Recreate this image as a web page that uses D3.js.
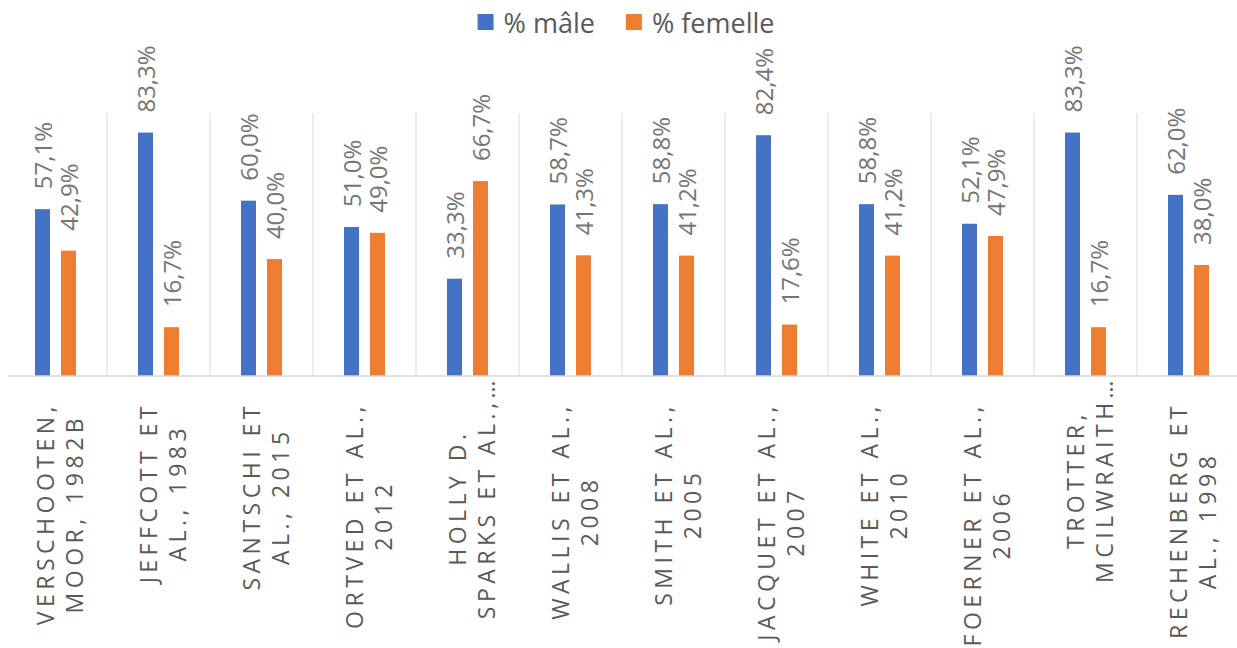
<!DOCTYPE html>
<html>
<head>
<meta charset="utf-8">
<script src="https://cdn.jsdelivr.net/npm/d3@7"></script>
<style>
  body { margin: 0; background: #fff; }
  svg { display: block; font-family: "Open Sans", sans-serif; }
</style>
</head>
<body>
<div id="chart"></div>
<script>
// categories, each split into its two wrapped lines
const categories = [
  ["VERSCHOOTEN,", "MOOR, 1982B"],
  ["JEFFCOTT ET", "AL., 1983"],
  ["SANTSCHI ET", "AL., 2015"],
  ["ORTVED ET AL.,", "2012"],
  ["HOLLY D.", "SPARKS ET AL.,…"],
  ["WALLIS ET AL.,", "2008"],
  ["SMITH ET AL.,", "2005"],
  ["JACQUET ET AL.,", "2007"],
  ["WHITE ET AL.,", "2010"],
  ["FOERNER ET AL.,", "2006"],
  ["TROTTER,", "MCILWRAITH…"],
  ["RECHENBERG ET", "AL., 1998"]
];
const male = [57.1, 83.3, 60.0, 51.0, 33.3, 58.7, 58.8, 82.4, 58.8, 52.1, 83.3, 62.0];
const female = [42.9, 16.7, 40.0, 49.0, 66.7, 41.3, 41.2, 17.6, 41.2, 47.9, 16.7, 38.0];
const seriesNames = ["% mâle", "% femelle"];
const colors = ["#4472C4", "#ED7D31"];

const width = 1237, height = 648;
const baseY = 376, topY = 113;

const svg = d3.select("#chart").append("svg")
  .attr("width", width).attr("height", height);

const x = d3.scaleBand().domain(d3.range(categories.length)).range([4, 1240]);
const y = d3.scaleLinear().domain([0, 90]).range([baseY, topY]);
const barW = 15, gap = 11;

const fmt = v => v.toFixed(1).replace(".", ",") + "%";

// vertical separators between categories
svg.append("g")
  .selectAll("line")
  .data(d3.range(1, categories.length))
  .join("line")
  .attr("x1", i => x(i)).attr("x2", i => x(i))
  .attr("y1", topY).attr("y2", baseY)
  .attr("stroke", "#d9d9d9").attr("stroke-width", 1);

const series = [male, female];
series.forEach((vals, s) => {
  const off = s === 0 ? -(barW + gap / 2) : gap / 2;
  const g = svg.append("g");
  g.selectAll("rect")
    .data(vals)
    .join("rect")
    .attr("x", (d, i) => x(i) + x.bandwidth() / 2 + off)
    .attr("y", d => y(d))
    .attr("width", barW)
    .attr("height", d => baseY - y(d))
    .attr("fill", colors[s]);

  g.selectAll("text")
    .data(vals)
    .join("text")
    .attr("transform", (d, i) =>
      `translate(${x(i) + x.bandwidth() / 2 + off + barW / 2},${y(d) - 20}) rotate(-90)`)
    .attr("dominant-baseline", "central")
    .attr("font-size", 24)
    .attr("fill", "#757575")
    .text(d => fmt(d));
});

// baseline
svg.append("line")
  .attr("x1", 8).attr("x2", width)
  .attr("y1", baseY).attr("y2", baseY)
  .attr("stroke", "#d9d9d9").attr("stroke-width", 1.5);

// category labels, rotated, two lines each
const lineGap = 29;
const cat = svg.append("g").selectAll("g")
  .data(categories)
  .join("g");

cat.each(function (lines, i) {
  const g = d3.select(this);
  const texts = g.selectAll("text")
    .data(lines)
    .join("text")
    .attr("text-anchor", "middle")
    .attr("dominant-baseline", "central")
    .attr("y", (d, j) => (j - (lines.length - 1) / 2) * lineGap)
    .attr("font-size", 23)
    .attr("letter-spacing", 4.5)
    .attr("fill", "#595959")
    .text(d => d);
  const maxLen = d3.max(texts.nodes(), n => n.getComputedTextLength());
  const truncated = lines.some(l => l.includes("…"));
  const start = truncated ? 376 : 402;
  g.attr("transform", `translate(${x(i) + x.bandwidth() / 2 + 4},${start + maxLen / 2}) rotate(-90)`);
});

// legend
const legend = svg.append("g");
let lx = 0;
seriesNames.forEach((name, s) => {
  const item = legend.append("g").attr("transform", `translate(${lx},0)`);
  item.append("rect")
    .attr("x", 0).attr("y", 14).attr("width", 16).attr("height", 16)
    .attr("fill", colors[s]);
  const t = item.append("text")
    .attr("x", 26).attr("y", 22)
    .attr("dominant-baseline", "central")
    .attr("font-size", 27)
    .attr("fill", "#595959")
    .text(name);
  lx += 26 + t.node().getComputedTextLength() + 31;
});
const legendW = lx - 31;
legend.attr("transform", `translate(${626 - legendW / 2},0)`);
</script>
</body>
</html>
